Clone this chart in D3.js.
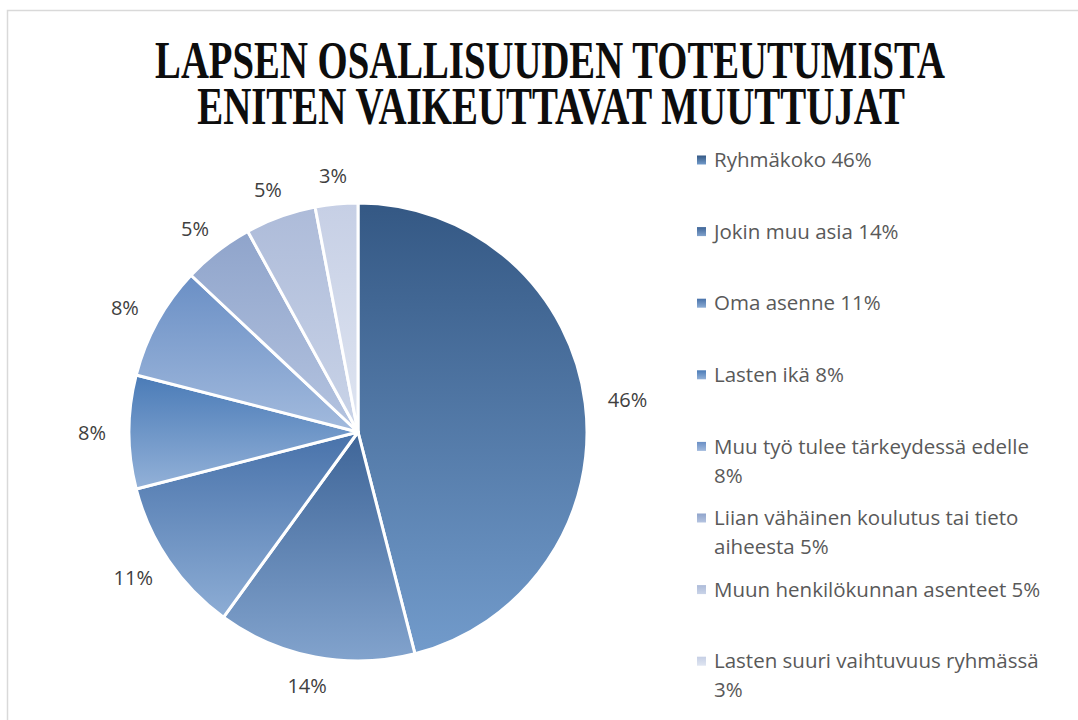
<!DOCTYPE html>
<html>
<head>
<meta charset="utf-8">
<script src="https://cdn.jsdelivr.net/npm/d3@7"></script>
<style>
  body { margin: 0; background: #fff; }
  svg { display: block; }
</style>
</head>
<body>
<div class="chart"></div>
<script>
const categories = [
	"Ryhmäkoko",
	"Jokin muu asia",
	"Oma asenne",
	"Lasten ikä",
	"Muu työ tulee tärkeydessä edelle",
	"Liian vähäinen koulutus tai tieto aiheesta",
	"Muun henkilökunnan asenteet",
	"Lasten suuri vaihtuvuus ryhmässä"
];
const values = [46, 14, 11, 8, 8, 5, 5, 3];
const titleLines = ["LAPSEN OSALLISUUDEN TOTEUTUMISTA", "ENITEN VAIKEUTTAVAT MUUTTUJAT"];

// top / bottom colours of each slice gradient
const topColors = ["#345884", "#3e6598", "#4872aa", "#4a7bb7", "#6a8fc5", "#8fa4cb", "#adbbd9", "#c6cfe5"];
const bottomColors = ["#729bcb", "#82a3cd", "#8dadd5", "#93b1d8", "#a2badd", "#b5c4e0", "#cad4e8", "#dfe5f1"];

const width = 1078;
const height = 720;
const cx = 358, cy = 432, radius = 229;
const labelFont = '"Open Sans", sans-serif';

const svg = d3.select('.chart')
	.append('svg')
	.attr('width', width)
	.attr('height', height)

// chart area border (runs off right and bottom)
svg.append('rect')
	.attr('x', 7.5)
	.attr('y', 10.5)
	.attr('width', width + 10)
	.attr('height', height + 10)
	.attr('fill', 'none')
	.attr('stroke', '#d9d9d9')
	.attr('stroke-width', 1.5)

const defs = svg.append('defs')
values.forEach(function(v, i) {
	let g = defs.append('linearGradient')
		.attr('id', 'grad' + i)
		.attr('x1', 0).attr('y1', 0)
		.attr('x2', 0).attr('y2', 1)
	g.append('stop').attr('offset', '0%').attr('stop-color', topColors[i])
	g.append('stop').attr('offset', '100%').attr('stop-color', bottomColors[i])
})

// title, squeezed horizontally to the reference width
const titleWidths = [790, 708];
svg.selectAll('.title')
	.data(titleLines)
	.enter()
	.append('text')
	.attr('class', 'title')
	.text(function(d) { return d; })
	.attr('text-anchor', 'middle')
	.attr('font-family', '"Liberation Serif", serif')
	.attr('font-weight', 'bold')
	.attr('font-size', '52px')
	.attr('fill', '#0d0d0d')
	.each(function(d, i) {
		let w = this.getComputedTextLength();
		let s = titleWidths[i] / w;
		let x = i == 0 ? 550 : 551;
		let y = 78 + i * 46;
		d3.select(this).attr('transform', 'translate(' + x + ',' + y + ') scale(' + s + ',1)');
	})

const pie = d3.pie().sort(null).value(function(d) { return d; })
const arcs = pie(values)
const arc = d3.arc().innerRadius(0).outerRadius(radius)

const pieG = svg.append('g').attr('transform', 'translate(' + cx + ',' + cy + ')')

pieG.selectAll('path')
	.data(arcs)
	.enter()
	.append('path')
	.attr('d', arc)
	.attr('fill', function(d, i) { return 'url(#grad' + i + ')'; })
	.attr('stroke', '#fff')
	.attr('stroke-width', 3)
	.attr('stroke-linejoin', 'round')

// data labels outside the pie
const gap = 21;
pieG.selectAll('.lbl')
	.data(arcs)
	.enter()
	.append('text')
	.attr('class', 'lbl')
	.text(function(d) { return d.data + '%'; })
	.attr('font-family', labelFont)
	.attr('font-size', '20px')
	.attr('fill', '#404040')
	.attr('text-anchor', 'middle')
	.attr('dominant-baseline', 'central')
	.each(function(d) {
		let a = (d.startAngle + d.endAngle) / 2;
		let sx = Math.sin(a), sy = -Math.cos(a);
		let w = this.getComputedTextLength();
		let x = sx * (radius + gap) + sx * (w / 2 + 2);
		let y = sy * (radius + gap) + sy * 8;
		d3.select(this).attr('x', x).attr('y', y);
	})

// legend
const legendX = 697, legendTextX = 714, legendY0 = 160, legendStep = 71.6, maxW = 340;
const legend = svg.append('g')
categories.forEach(function(c, i) {
	let y = legendY0 + i * legendStep;
	legend.append('rect')
		.attr('x', legendX)
		.attr('y', y - 4.5)
		.attr('width', 9)
		.attr('height', 9)
		.attr('fill', 'url(#grad' + i + ')')
	let t = legend.append('text')
		.attr('x', legendTextX)
		.attr('y', y)
		.attr('dy', '0.35em')
		.attr('font-family', labelFont)
		.attr('font-size', '20.5px')
		.attr('fill', '#595959')
	let words = (c + ' ' + values[i] + '%').split(' ');
	let line = [];
	let tspan = t.append('tspan').attr('x', legendTextX);
	words.forEach(function(w) {
		line.push(w);
		tspan.text(line.join(' '));
		if (tspan.node().getComputedTextLength() > maxW && line.length > 1) {
			line.pop();
			tspan.text(line.join(' '));
			line = [w];
			tspan = t.append('tspan').attr('x', legendTextX).attr('dy', 29).text(w);
		}
	})
})
</script>
</body>
</html>
